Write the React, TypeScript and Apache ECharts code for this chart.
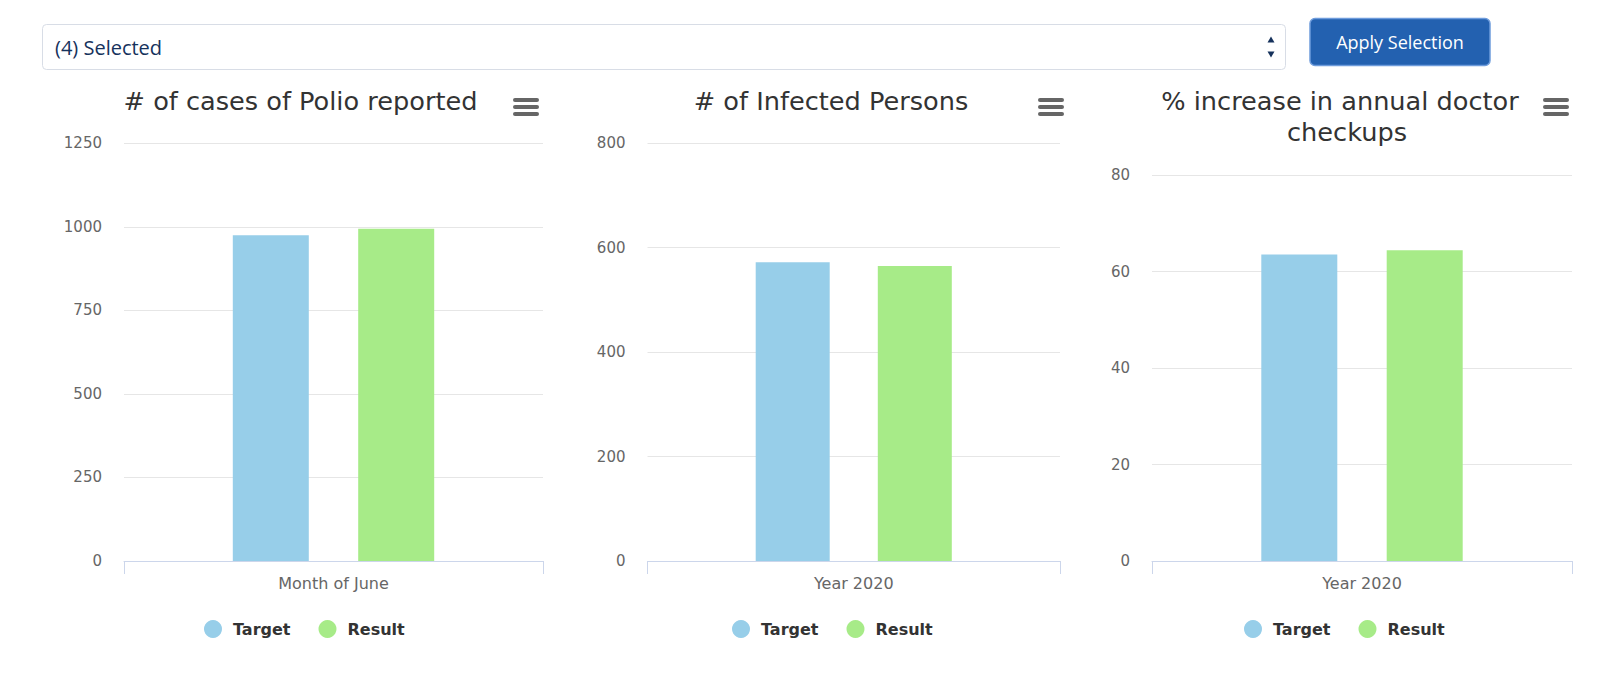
import React, { useEffect, useRef } from "react";
import * as echarts from "echarts";

const seriesNames = ["Target", "Result"];
const seriesColors = ["#97cee9", "#a7eb88"];

const chartTitles = ["# of cases of Polio reported", "# of Infected Persons", "% increase in annual doctor\ncheckups"];
const chartCategories = [["Month of June"], ["Year 2020"], ["Year 2020"]];

const polioTarget = [975];
const polioResult = [994];
const infectedTarget = [572];
const infectedResult = [565];
const checkupTarget = [63.5];
const checkupResult = [64.4];

const yMax = [1250, 800, 80];
const yInterval = [250, 200, 20];

const selectText = "(4) Selected";
const buttonText = "Apply Selection";

const FONT = "DejaVu Sans";

export default function App() {
  const ref = useRef<HTMLDivElement>(null);
  useEffect(() => {
    if (!ref.current) return;
    const chart = echarts.init(ref.current, undefined, { renderer: "svg" });

    const grids = [
      { left: 124, right: 1057, top: 143.3, bottom: 114 },
      { left: 647.5, right: 540, top: 143.3, bottom: 114 },
      { left: 1152, right: 28, top: 175, bottom: 114 },
    ];
    const barWidths = [76, 74, 76];
    const legendLefts = [199, 727, 1239];
    const menuLefts = [513, 1038, 1543];
    const values = [
      [polioTarget, polioResult],
      [infectedTarget, infectedResult],
      [checkupTarget, checkupResult],
    ];

    const xAxis = grids.map((_, i) => ({
      type: "category",
      gridIndex: i,
      data: chartCategories[i],
      axisLine: { lineStyle: { color: "#ccd6eb", width: 1 } },
      axisTick: { show: true, length: 13, lineStyle: { color: "#ccd6eb" } },
      axisLabel: { color: "#666666", fontSize: 16, fontFamily: FONT, margin: 14 },
    }));
    const yAxis = grids.map((_, i) => ({
      type: "value",
      gridIndex: i,
      min: 0,
      max: yMax[i],
      interval: yInterval[i],
      axisLine: { show: false },
      axisTick: { show: false },
      splitLine: { lineStyle: { color: "#e6e6e6", width: 1 } },
      axisLabel: {
        color: "#666666",
        fontSize: 15,
        fontFamily: FONT,
        margin: 22,
        formatter: (v: number) => String(v),
      },
    }));
    const series: any[] = [];
    grids.forEach((_, i) => {
      seriesNames.forEach((name, s) => {
        series.push({
          type: "bar",
          name,
          xAxisIndex: i,
          yAxisIndex: i,
          data: values[i][s],
          barWidth: barWidths[i],
          barGap: "65%",
          itemStyle: { color: seriesColors[s] },
        });
      });
    });
    const legend = grids.map((_, i) => ({
      data: seriesNames,
      left: legendLefts[i],
      top: 615,
      icon: "circle",
      itemWidth: 18,
      itemHeight: 18,
      itemGap: 28,
      textStyle: { fontSize: 16, fontWeight: "bold", color: "#333333", fontFamily: FONT, padding: [0, 0, 0, 6] },
    }));

    const menuIcon = (x: number) => ({
      type: "group",
      children: [0, 7, 14].map((dy) => ({
        type: "rect",
        shape: { x, y: 98 + dy, width: 26, height: 4, r: 2 },
        style: { fill: "#666666" },
      })),
    });

    const titleLines = [
      { text: chartTitles[0], x: 300.5, y: 101 },
      { text: chartTitles[1], x: 831, y: 101 },
      { text: chartTitles[2].split("\n")[0], x: 1340, y: 101 },
      { text: chartTitles[2].split("\n")[1], x: 1347, y: 131.5 },
    ];

    const graphic: any[] = [
      {
        type: "rect",
        shape: { x: 42.5, y: 24.5, width: 1243, height: 45, r: 4 },
        style: { fill: "#ffffff", stroke: "#d8dde6", lineWidth: 1 },
      },
      {
        type: "text",
        x: 55,
        y: 47,
        style: { text: selectText, fill: "#16325c", fontSize: 20, fontFamily: "Open Sans", verticalAlign: "middle" },
      },
      {
        type: "polygon",
        shape: { points: [[1267.5, 42.5], [1274.5, 42.5], [1271, 36.5]] },
        style: { fill: "#16325c" },
      },
      {
        type: "polygon",
        shape: { points: [[1267.5, 51.5], [1274.5, 51.5], [1271, 57.5]] },
        style: { fill: "#16325c" },
      },
      {
        type: "rect",
        shape: { x: 1310, y: 18.5, width: 180, height: 47, r: 5 },
        style: { fill: "#2361b0", stroke: "#6e9cdc", lineWidth: 1.5 },
      },
      {
        type: "text",
        x: 1400,
        y: 42,
        style: { text: buttonText, fill: "#ffffff", fontSize: 18, fontFamily: "Open Sans", align: "center", verticalAlign: "middle" },
      },
      ...titleLines.map((t) => ({
        type: "text",
        x: t.x,
        y: t.y,
        style: { text: t.text, fill: "#333333", fontSize: 25.6, fontFamily: FONT, align: "center", verticalAlign: "middle" },
      })),
      ...menuLefts.map((x) => menuIcon(x)),
    ];

    chart.setOption({
      animation: false,
      backgroundColor: "#ffffff",
      grid: grids,
      xAxis,
      yAxis,
      series,
      legend,
      graphic,
    });
    return () => chart.dispose();
  }, []);
  return <div ref={ref} style={{ position: "absolute", left: 0, top: 0, width: 1600, height: 675 }} />;
}
